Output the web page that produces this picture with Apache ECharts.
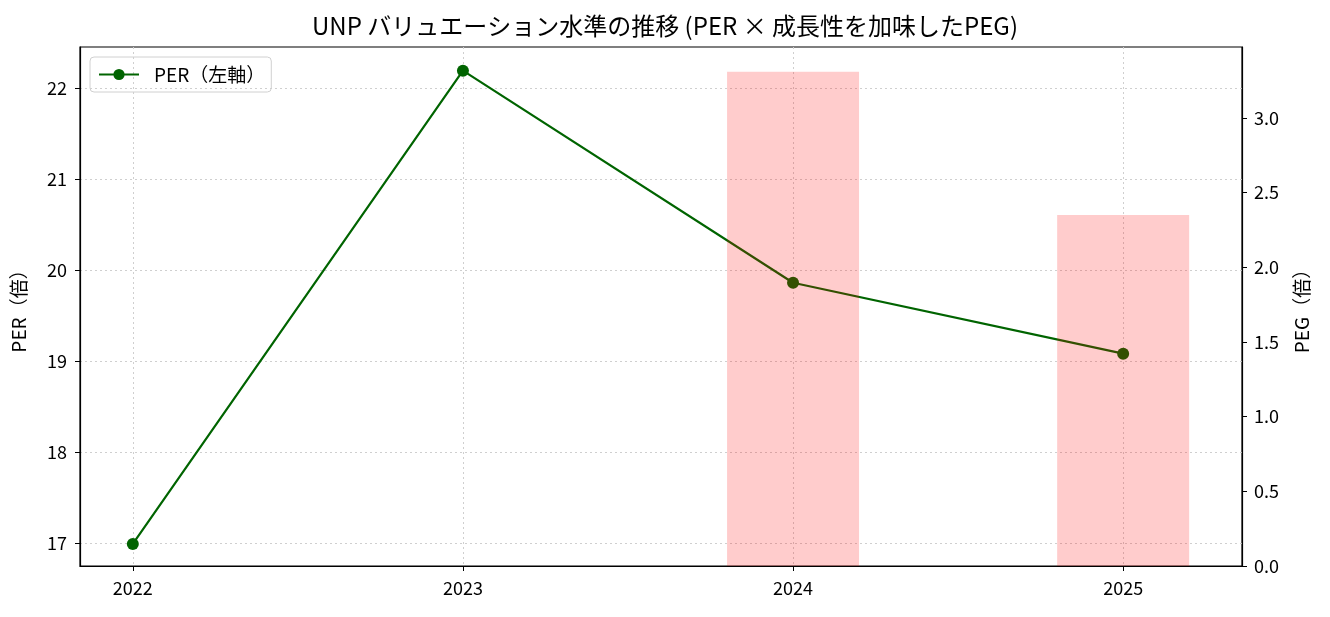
<!DOCTYPE html>
<html>
<head>
<meta charset="utf-8">
<script src="https://cdn.jsdelivr.net/npm/echarts@6/dist/echarts.min.js"></script>
<style>
  html, body { margin: 0; padding: 0; background: #fff; }
  #box { width: 1330px; height: 617px; }
</style>
</head>
<body>
<div id="box"></div>
<script>
    // データ
    var years = ['2022', '2023', '2024', '2025'];
    var perValues = [16.99, 22.19, 19.86, 19.08];
    var pegValues = [null, null, 3.31, 2.35];
    var perTicks = [17, 18, 19, 20, 21, 22];
    var pegTicks = [0, 0.5, 1.0, 1.5, 2.0, 2.5, 3.0];
    var xTicks = [0, 1, 2, 3];

    var font = '"Noto Sans CJK JP", sans-serif';
    var gridLine = { show: true, lineStyle: { color: '#cfcfcf', type: [2, 3], width: 1 } };
    var axisLine = { show: true, onZero: false, lineStyle: { color: '#000', width: 1.2 } };
    var tick = function (vals) {
        return { show: true, inside: false, customValues: vals, length: 5, lineStyle: { color: '#000' } };
    };

    var myChart = echarts.init(document.getElementById('box'));
    var option = {
        animation: false,
        title: {
            text: 'UNP バリュエーション水準の推移 (PER × 成長性を加味したPEG)',
            left: 660, top: 9, textAlign: 'center',
            textStyle: { fontFamily: font, fontSize: 24, fontWeight: 'normal', color: '#000' }
        },
        legend: {
            left: 90, top: 57,
            padding: [8, 6, 8, 8],
            borderColor: '#d0d0d0', borderWidth: 1, borderRadius: 4,
            itemWidth: 40, itemHeight: 14, itemGap: 8,
            textStyle: { fontFamily: font, fontSize: 19, color: '#000', padding: [0, 0, 0, 10] },
            data: ['PER（左軸）']
        },
        grid: {
            left: 80, right: 88, top: 47, bottom: 51,
            show: true, borderColor: '#000', borderWidth: 1.2, backgroundColor: 'transparent'
        },
        xAxis: {
            type: 'value', min: -0.16, max: 3.36,
            axisLine: axisLine,
            axisTick: tick(xTicks),
            axisLabel: {
                customValues: xTicks, margin: 13, color: '#000', fontFamily: font, fontSize: 18,
                formatter: function (v) { return years[Math.round(v)]; }
            },
            splitLine: gridLine
        },
        yAxis: [
            {
                type: 'value', min: 16.747, max: 22.45, position: 'left',
                name: 'PER（倍）', nameLocation: 'middle', nameGap: 52, nameRotate: 90,
                nameTextStyle: { fontFamily: font, fontSize: 19, color: '#000' },
                axisLine: axisLine,
                axisTick: tick(perTicks),
                axisLabel: { customValues: perTicks, margin: 13, color: '#000', fontFamily: font, fontSize: 18 },
                splitLine: gridLine
            },
            {
                type: 'value', min: 0, max: 3.475, position: 'right',
                name: 'PEG（倍）', nameLocation: 'middle', nameGap: 50, nameRotate: 90,
                nameTextStyle: { fontFamily: font, fontSize: 19, color: '#000' },
                axisLine: axisLine,
                axisTick: tick(pegTicks),
                axisLabel: {
                    customValues: pegTicks, margin: 12, color: '#000', fontFamily: font, fontSize: 18,
                    formatter: function (v) { return v.toFixed(1); }
                },
                splitLine: { show: false }
            }
        ],
        series: [
            {
                name: 'PER（左軸）',
                type: 'line',
                yAxisIndex: 0,
                z: 2,
                symbol: 'circle', symbolSize: 12,
                lineStyle: { color: '#006400', width: 2.2 },
                itemStyle: { color: '#006400' },
                data: perValues.map(function (v, i) { return [i, v]; })
            },
            {
                name: 'PEG',
                type: 'bar',
                yAxisIndex: 1,
                z: 5,
                barWidth: 132,
                itemStyle: { color: 'rgba(255,0,0,0.2)' },
                data: pegValues.map(function (v, i) { return [i, v]; })
            }
        ]
    };
    myChart.setOption(option);
</script>
</body>
</html>
